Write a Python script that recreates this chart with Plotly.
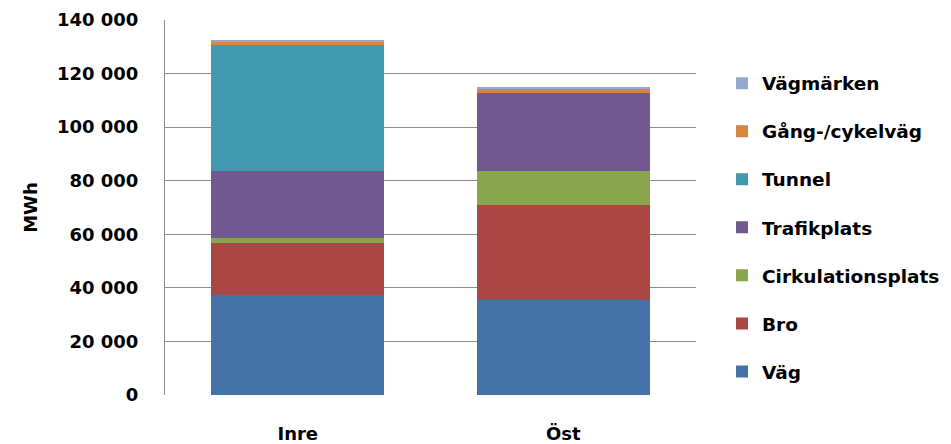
import plotly.graph_objects as go

regions = ["Inre", "Öst"]

# Energy use per asset type, MWh (stack order bottom -> top)
vag = [37300, 35300]
bro = [19400, 35600]
cirkulationsplats = [1800, 12600]
trafikplats = [25100, 29300]
tunnel = [47000, 0]
gang_cykelvag = [1500, 1800]
vagmarken = [150, 150]

series = [
    ("Väg", vag, "#4572A7"),
    ("Bro", bro, "#AA4643"),
    ("Cirkulationsplats", cirkulationsplats, "#89A54E"),
    ("Trafikplats", trafikplats, "#71588F"),
    ("Tunnel", tunnel, "#4198AF"),
    ("Gång-/cykelväg", gang_cykelvag, "#DB843D"),
    ("Vägmärken", vagmarken, "#93A9CF"),
]

y_ticks = list(range(0, 140001, 20000))
y_tick_text = ["0" if v == 0 else f"{v // 1000} 000" for v in y_ticks]

FONT = "DejaVu Sans"

fig = go.Figure()
for i, (name, vals, color) in enumerate(series):
    fig.add_trace(go.Bar(
        x=regions, y=vals, name=name, legendgroup=name,
        legendrank=1000 - i,  # top of stack listed first
        marker=dict(color=color, line=dict(width=0)),
    ))

fig.update_layout(
    barmode="stack",
    bargap=0.35,
    width=951, height=444,
    margin=dict(l=165, r=255, t=20, b=49, autoexpand=False),
    paper_bgcolor="white", plot_bgcolor="white",
    font=dict(family=FONT, size=18, color="black", weight="bold"),
    showlegend=True,
    legend=dict(
        traceorder="grouped",
        x=1.049, xanchor="left", y=0.881, yanchor="top",
        font=dict(family=FONT, size=18.5, color="black", weight="bold"),
        tracegroupgap=21,
        itemwidth=30,
    ),
    xaxis=dict(
        showgrid=False, showline=False, zeroline=False,
        ticks="outside", ticklen=22, tickcolor="rgba(0,0,0,0)",
        tickfont=dict(family=FONT, size=18, weight="bold"),
    ),
    yaxis=dict(
        range=[0, 140000],
        tickvals=y_ticks, ticktext=y_tick_text,
        showgrid=True, gridcolor="#8C8C8C", gridwidth=1,
        showline=True, linecolor="#8C8C8C", linewidth=1,
        zeroline=False,
        ticks="", ticklabelstandoff=22,
        tickfont=dict(family=FONT, size=18, weight="bold"),
        title=dict(text="MWh", font=dict(family=FONT, size=18, weight="bold"), standoff=14),
    ),
)

fig.write_html("out.html")
